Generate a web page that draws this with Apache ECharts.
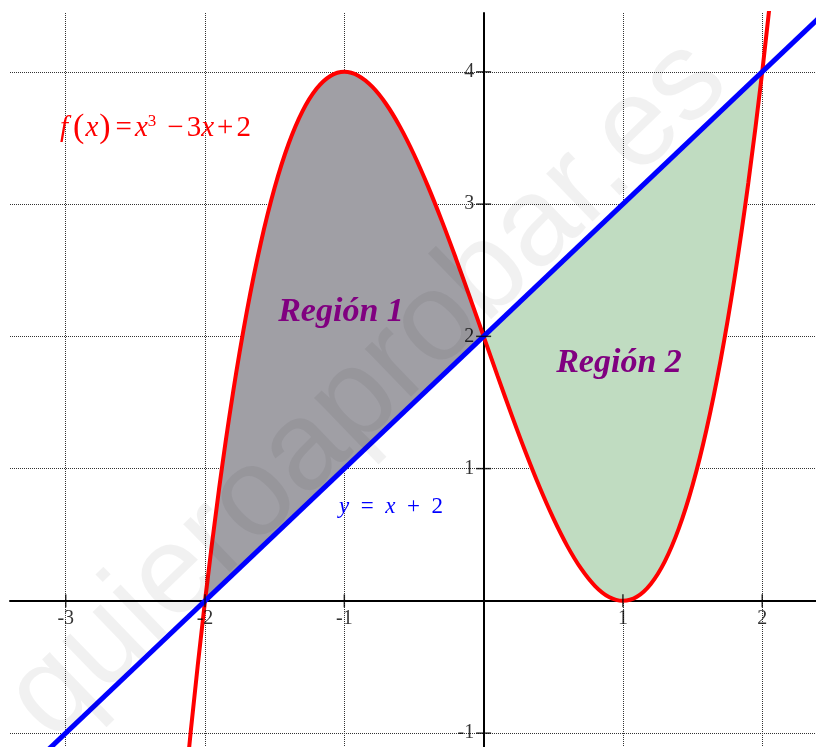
<!DOCTYPE html>
<html>
<head>
<meta charset="utf-8">
<script src="https://cdn.jsdelivr.net/npm/echarts@6/dist/echarts.min.js"></script>
<style>
  html, body { margin: 0; padding: 0; background: #fff; }
  #main { width: 816px; height: 747px; }
</style>
</head>
<body>
<div id="main"></div>
<script>
// puntos de la curva f(x) = x^3 - 3x + 2
var curveX = [-2.2, -2.1, -2.0, -1.9, -1.8, -1.7, -1.6, -1.5, -1.4, -1.3, -1.2, -1.1, -1.0,
  -0.9, -0.8, -0.7, -0.6, -0.5, -0.4, -0.3, -0.2, -0.1, 0,
  0.1, 0.2, 0.3, 0.4, 0.5, 0.6, 0.7, 0.8, 0.9, 1.0,
  1.1, 1.2, 1.3, 1.4, 1.5, 1.6, 1.7, 1.8, 1.9, 2.0, 2.1];
var curveY = [-2.048, -0.961, 0, 0.841, 1.568, 2.187, 2.704, 3.125, 3.456, 3.703, 3.872, 3.969, 4,
  3.971, 3.888, 3.757, 3.584, 3.375, 3.136, 2.873, 2.592, 2.299, 2,
  1.701, 1.408, 1.127, 0.864, 0.625, 0.416, 0.243, 0.112, 0.029, 0,
  0.031, 0.128, 0.297, 0.544, 0.875, 1.296, 1.813, 2.432, 3.159, 4, 4.961];

// recta y = x + 2
var lineX = [-3.5, 2.5];
var lineY = [-1.5, 4.5];

// limites de las regiones
var region1 = [-2, 0];
var region2 = [0, 2];

var xTicks = [-3, -2, -1, 1, 2];
var yTicks = [-1, 1, 2, 3, 4];

var curveData = curveX.map(function (x, i) { return [x, curveY[i]]; });
var lineData = lineX.map(function (x, i) { return [x, lineY[i]]; });

function regionPts(range) {
  return curveData.filter(function (p) { return p[0] >= range[0] - 1e-9 && p[0] <= range[1] + 1e-9; });
}

function regionSeries(range, color) {
  var pts = regionPts(range);
  return {
    type: 'custom',
    z: 1,
    silent: true,
    data: [0],
    renderItem: function (params, api) {
      return {
        type: 'polygon',
        shape: { points: pts.map(function (p) { return api.coord(p); }) },
        style: { fill: color }
      };
    }
  };
}

var serif = "'Liberation Serif', 'DejaVu Serif', serif";

var option = {
  backgroundColor: '#fff',
  animation: false,
  grid: { left: 10, right: 0, top: 13, bottom: 0, containLabel: false, outerBoundsMode: 'none' },
  xAxis: {
    type: 'value',
    min: -3.4,
    max: 2.386,
    axisLine: { onZero: true, lineStyle: { color: '#000', width: 2 } },
    axisTick: { show: false },
    axisLabel: { show: false },
    splitLine: {
      show: true,
      showMinLine: false,
      showMaxLine: false,
      lineStyle: { type: 'dotted', color: '#333', width: 1 }
    }
  },
  yAxis: {
    type: 'value',
    min: -1.105,
    max: 4.445,
    axisLine: { onZero: true, lineStyle: { color: '#000', width: 2 } },
    axisTick: { show: false },
    axisLabel: { show: false },
    splitLine: {
      show: true,
      showMinLine: false,
      showMaxLine: false,
      lineStyle: { type: 'dotted', color: '#333', width: 1 }
    }
  },
  series: [
    regionSeries(region1, '#a09fa5'),
    regionSeries(region2, '#c0dcc1'),
    {
      type: 'line',
      z: 3,
      data: curveData,
      smooth: 0.3,
      showSymbol: false,
      lineStyle: { color: '#ff0000', width: 4 }
    },
    {
      type: 'line',
      z: 4,
      data: lineData,
      showSymbol: false,
      lineStyle: { color: '#0000ff', width: 5 }
    },
    {
      // marcas y etiquetas del eje x
      type: 'scatter',
      z: 5,
      silent: true,
      data: xTicks.map(function (v) { return [v, 0]; }),
      symbol: 'rect',
      symbolSize: [1.5, 13],
      itemStyle: { color: '#000' },
      label: {
        show: true,
        position: 'bottom',
        distance: 1,
        formatter: function (p) { return String(p.value[0]); },
        fontFamily: serif,
        fontSize: 20,
        color: '#000'
      }
    },
    {
      // marcas y etiquetas del eje y
      type: 'scatter',
      z: 5,
      silent: true,
      data: yTicks.map(function (v) { return [0, v]; }),
      symbol: 'rect',
      symbolSize: [15, 1.5],
      itemStyle: { color: '#000' },
      label: {
        show: true,
        position: 'left',
        distance: 2,
        formatter: function (p) { return String(p.value[1]); },
        fontFamily: serif,
        fontSize: 20,
        color: '#000'
      }
    }
  ],
  graphic: [
    {
      type: 'text',
      z: 100,
      x: 368,
      y: 390,
      rotation: Math.PI * 44 / 180,
      silent: true,
      style: {
        text: 'quieroaprobar.es',
        fontFamily: "'Liberation Sans', Arial, sans-serif",
        fontSize: 126,
        fill: 'rgba(0,0,0,0.055)',
        textAlign: 'center',
        textVerticalAlign: 'middle'
      }
    },
    {
      type: 'text',
      z: 50,
      x: 60,
      y: 128,
      style: {
        text: '{i|f}{pl|(}{i|x}{pr|)}{op|=}{i|x}{s|3}{op|−}{n|3}{i|x}{op|+}{n|2}',
        textVerticalAlign: 'middle',
        fill: '#ff0000',
        rich: {
          i: { fontFamily: serif, fontStyle: 'italic', fontSize: 29, fill: '#ff0000' },
          n: { fontFamily: serif, fontSize: 29, fill: '#ff0000' },
          op: { fontFamily: serif, fontSize: 29, fill: '#ff0000', padding: [0, 3, 0, 3] },
          pl: { fontFamily: serif, fontSize: 34, fill: '#ff0000', padding: [0, 1, 0, 5] },
          pr: { fontFamily: serif, fontSize: 34, fill: '#ff0000', padding: [0, 2, 0, 1] },
          s: { fontFamily: serif, fontSize: 17, fill: '#ff0000', verticalAlign: 'top', padding: [2, 8, 0, 0] }
        }
      }
    },
    {
      type: 'text',
      z: 50,
      x: 341,
      y: 312,
      style: {
        text: 'Región 1',
        fontFamily: serif,
        fontStyle: 'italic',
        fontWeight: 'bold',
        fontSize: 34,
        fill: '#800080',
        textAlign: 'center',
        textVerticalAlign: 'middle'
      }
    },
    {
      type: 'text',
      z: 50,
      x: 619,
      y: 363,
      style: {
        text: 'Región 2',
        fontFamily: serif,
        fontStyle: 'italic',
        fontWeight: 'bold',
        fontSize: 34,
        fill: '#800080',
        textAlign: 'center',
        textVerticalAlign: 'middle'
      }
    },
    {
      type: 'text',
      z: 50,
      x: 391,
      y: 507,
      style: {
        text: '{i|y}{n|  =  }{i|x}{n|  +  2}',
        textAlign: 'center',
        textVerticalAlign: 'middle',
        rich: {
          i: { fontFamily: serif, fontStyle: 'italic', fontSize: 23, fill: '#0000ff' },
          n: { fontFamily: serif, fontSize: 23, fill: '#0000ff' }
        }
      }
    }
  ]
};

var myChart = echarts.init(document.getElementById('main'));
myChart.setOption(option);
</script>
</body>
</html>
